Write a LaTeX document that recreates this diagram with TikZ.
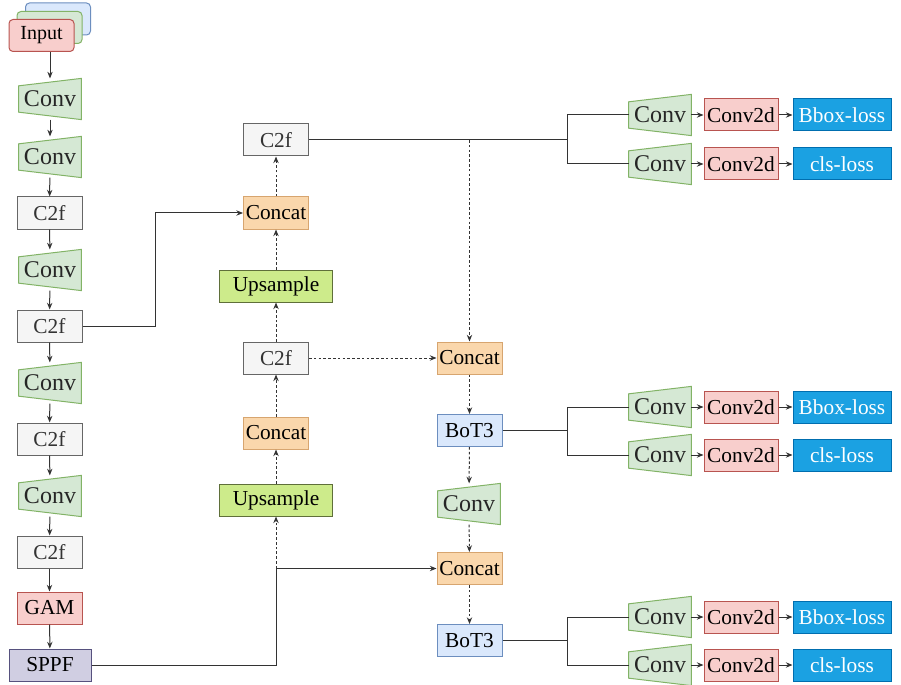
\documentclass[tikz,border=0pt]{standalone}
\usepackage{fontspec}
\setmainfont{Liberation Serif}
\usetikzlibrary{arrows.meta,calc,backgrounds}
\definecolor{convF}{HTML}{D5E8D4}\definecolor{convD}{HTML}{82B366}
\definecolor{pinkF}{HTML}{F8CECC}\definecolor{pinkD}{HTML}{B85450}
\definecolor{grayF}{HTML}{F5F5F5}\definecolor{grayD}{HTML}{666666}\definecolor{grayT}{HTML}{333333}
\definecolor{catF}{HTML}{FAD7AC}\definecolor{catD}{HTML}{D7A56F}
\definecolor{upF}{HTML}{CDEB8B}\definecolor{upD}{HTML}{5F6F3A}
\definecolor{botF}{HTML}{DAE8FC}\definecolor{botD}{HTML}{6C8EBF}
\definecolor{sppfF}{HTML}{D0CEE2}\definecolor{sppfD}{HTML}{56517E}
\definecolor{lossF}{HTML}{1BA1E2}\definecolor{lossD}{HTML}{006EAF}
\definecolor{lineC}{HTML}{333333}
\tikzset{
 box/.style={draw, line width=0.75pt, minimum width=48.75pt, minimum height=24pt, inner sep=0pt, font=\fontsize{16}{18}\selectfont},
 c2fbox/.style={box, fill=grayF, draw=grayD, text=grayT},
 catbox/.style={box, fill=catF, draw=catD},
 upbox/.style={box, fill=upF, draw=upD, minimum width=84.75pt},
 botbox/.style={box, fill=botF, draw=botD},
 pinkbox/.style={box, fill=pinkF, draw=pinkD},
 c2dbox/.style={box, fill=pinkF, draw=pinkD, minimum width=55.5pt},
 lossbox/.style={box, fill=lossF, draw=lossD, text=white, minimum width=73.5pt},
 sppfbox/.style={box, fill=sppfF, draw=sppfD, minimum width=61.5pt},
 inbox/.style={box, rounded corners=3pt, minimum width=48.75pt, minimum height=24pt, font=\fontsize{15}{17}\selectfont},
 convtxt/.style={minimum width=46.5pt, minimum height=30.5pt, inner sep=0pt, font=\fontsize{18}{20}\selectfont, text=black!85},
 convshape/.style={fill=convF, draw=convD, line width=0.75pt},
 ln/.style={draw=lineC, line width=0.75pt},
 arr/.style={ln, -{Stealth[length=5pt,width=4pt]}},
 darr/.style={arr, dash pattern=on 2pt off 1.6pt},
}
\newcommand\convblock[2]{%
 \node[convtxt] (#1) at #2 {Conv};
 \begin{scope}[on background layer]
 \draw[convshape] (#1.north east) -- (#1.south east) -- ($(#1.south west)!0.18!(#1.north west)$) -- ($(#1.south west)!0.82!(#1.north west)$) -- cycle;
 \end{scope}}
\begin{document}
\begin{tikzpicture}[x=0.75pt,y=-0.75pt]
\useasboundingbox (0,0) rectangle (901,685);
% input stack
\node[inbox, fill=botF, draw=botD] (inb) at (58,19) {};
\node[inbox, fill=convF, draw=convD] (ing) at (49.5,27.5) {};
\node[inbox, fill=pinkF, draw=pinkD] (input) at (41.5,35.5) {Input};
% backbone
\convblock{cv1}{(50,99)}
\convblock{cv2}{(50,157)}
\node[c2fbox] (c2f1) at (49.5,213) {C2f};
\convblock{cv3}{(50,270)}
\node[c2fbox] (c2f2) at (49.5,326) {C2f};
\convblock{cv4}{(50,383)}
\node[c2fbox] (c2f3) at (49.5,439) {C2f};
\convblock{cv5}{(50,496)}
\node[c2fbox] (c2f4) at (49.5,552) {C2f};
\node[pinkbox] (gam) at (49.5,608) {GAM};
\node[sppfbox] (sppf) at (50,665) {SPPF};
% neck
\node[c2fbox] (c2ft) at (276,140) {C2f};
\node[catbox] (cat1) at (276,213) {Concat};
\node[upbox] (up1) at (276,286) {Upsample};
\node[c2fbox] (c2fm) at (276,358) {C2f};
\node[catbox] (cat2) at (276,433) {Concat};
\node[upbox] (up2) at (276,500) {Upsample};
% right column
\node[catbox] (cat3) at (469.5,358) {Concat};
\node[botbox] (bot1) at (469.5,430.5) {BoT3};
\convblock{cvm}{(469,504)}
\node[catbox] (cat4) at (469.5,568.5) {Concat};
\node[botbox] (bot2) at (469.5,640.5) {BoT3};
% heads
\foreach \i/\yy/\lab in {1/115/Bbox-loss,2/164/cls-loss,3/407/Bbox-loss,4/455/cls-loss,5/617/Bbox-loss,6/665/cls-loss}{
 \convblock{hc\i}{(660,\yy)}
 \node[c2dbox] (hd\i) at (741,\yy) {Conv2d};
 \node[lossbox] (hl\i) at (842,\yy) {\lab};
 \draw[arr] (hc\i) -- (hd\i);
 \draw[arr] (hd\i) -- (hl\i);
}
% backbone arrows
\draw[arr] (cv1.north |- input.south) -- (cv1.north);
\draw[arr] (cv1) -- (cv2);
\draw[arr] (cv2) -- (c2f1);
\draw[arr] (c2f1) -- (cv3);
\draw[arr] (cv3) -- (c2f2);
\draw[arr] (c2f2) -- (cv4);
\draw[arr] (cv4) -- (c2f3);
\draw[arr] (c2f3) -- (cv5);
\draw[arr] (cv5) -- (c2f4);
\draw[arr] (c2f4) -- (gam);
\draw[arr] (gam) -- (sppf);
% C2f2 -> Concat1
\coordinate (j1) at (155,326);
\draw[arr] (c2f2.east) -- (j1) |- (cat1.west);
% SPPF
\coordinate (j2) at (276,665);
\coordinate (j3) at (276,568.5);
\draw[arr] (sppf.east) -- (j2) -- (j3) -- (cat4.west);
\draw[darr] (j3) -- (up2.south);
% neck dashed
\draw[darr] (up2) -- (cat2);
\draw[darr] (cat2) -- (c2fm);
\draw[darr] (c2fm) -- (up1);
\draw[darr] (up1) -- (cat1);
\draw[darr] (cat1) -- (c2ft);
\draw[darr] (c2fm) -- (cat3);
% top C2f fork
\coordinate (f1) at (567,140);
\coordinate (d1) at (469.5,140);
\draw[ln] (c2ft.east) -- (f1);
\draw[ln] (f1) |- (hc1.west);
\draw[ln] (f1) |- (hc2.west);
\draw[darr] (d1) -- (cat3);
% right column dashed
\draw[darr] (cat3) -- (bot1);
\draw[darr] (bot1) -- (cvm);
\draw[darr] (cvm) -- (cat4);
\draw[darr] (cat4) -- (bot2);
% BoT3 forks
\coordinate (f2) at (567,430.5);
\draw[ln] (bot1.east) -- (f2);
\draw[ln] (f2) |- (hc3.west);
\draw[ln] (f2) |- (hc4.west);
\coordinate (f3) at (567,640.5);
\draw[ln] (bot2.east) -- (f3);
\draw[ln] (f3) |- (hc5.west);
\draw[ln] (f3) |- (hc6.west);
\end{tikzpicture}
\end{document}
